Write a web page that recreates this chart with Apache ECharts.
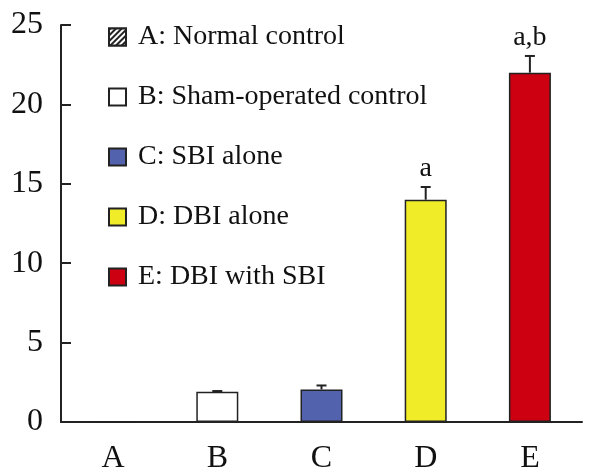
<!DOCTYPE html>
<html><head><meta charset="utf-8">
<script src="https://cdn.jsdelivr.net/npm/echarts@6/dist/echarts.min.js"></script>
<style>html,body{margin:0;padding:0;background:#fff}#c{width:593px;height:472px}</style>
</head><body><div id="c"></div>
<script>
const categories = ['A', 'B', 'C', 'D', 'E'];
const groupNames = ['A: Normal control', 'B: Sham-operated control', 'C: SBI alone', 'D: DBI alone', 'E: DBI with SBI'];
const values = [0, 1.9, 2.05, 14.0, 22.0];
const errors = [0, 0.05, 0.25, 0.8, 1.05];
const sigLabels = ['', '', '', 'a', 'a,b'];
const yTicks = [0, 5, 10, 15, 20, 25];

const fills = ['#ffffff', '#ffffff', '#5262ac', '#f0ec28', '#cc0010'];
const FONT = '"Liberation Serif", "Times New Roman", serif';
const chart = echarts.init(document.getElementById('c'));

const barSeries = groupNames.map((name, k) => {
  const s = {
    name: name, type: 'bar', stack: 'all', barWidth: 42,
    data: categories.map((c, i) => i === k ? values[i] : '-'),
    itemStyle: { color: fills[k], borderColor: '#222', borderWidth: 1.5 },
    animation: false
  };
  if (k === 0) {
    s.itemStyle.decal = { symbol: 'rect', color: '#222', backgroundColor: '#ffffff',
      dashArrayX: [1, 0], dashArrayY: [2, 2], rotation: -Math.PI / 4, symbolSize: 1 };
  }
  return s;
});

const errSeries = {
  type: 'custom', animation: false, silent: true,
  data: categories.map((c, i) => [i, values[i], errors[i]]),
  renderItem: function (params, api) {
    const i = params.dataIndex;
    if (!errors[i]) return null;
    const v = api.value(1), e = api.value(2);
    const b = api.coord([api.value(0), v]);
    const t = api.coord([api.value(0), v + e]);
    const children = [
      { type: 'line', shape: { x1: b[0], y1: b[1], x2: t[0], y2: t[1] }, style: { stroke: '#222', lineWidth: 2 } },
      { type: 'line', shape: { x1: t[0] - 5, y1: t[1], x2: t[0] + 5, y2: t[1] }, style: { stroke: '#222', lineWidth: 2 } }
    ];
    if (sigLabels[i]) {
      children.push({ type: 'text', style: { text: sigLabels[i], x: t[0], y: t[1] - 4,
        textAlign: 'center', textVerticalAlign: 'bottom', font: '28px ' + FONT, fill: '#111' } });
    }
    return { type: 'group', children: children };
  }
};

chart.setOption({
  backgroundColor: '#ffffff',
  animation: false,
  grid: { left: 61, right: 11, top: 25, bottom: 50, outerBoundsMode: 'none', containLabel: false },
  legend: {
    data: groupNames, orient: 'vertical', left: 103, top: 18, icon: 'rect',
    itemWidth: 17, itemHeight: 17, itemGap: 32, selectedMode: false,
    textStyle: { fontFamily: FONT, fontSize: 28, color: '#111', padding: [0, 0, 0, 7] }
  },
  xAxis: {
    type: 'category', data: categories,
    axisLine: { lineStyle: { color: '#222', width: 2 } },
    axisTick: { inside: true, length: 10, lineStyle: { color: '#222', width: 2 } },
    axisLabel: { fontFamily: FONT, fontSize: 32, color: '#111', margin: 21 }
  },
  yAxis: {
    type: 'value', min: yTicks[0], max: yTicks[yTicks.length - 1], interval: 5,
    splitLine: { show: false },
    axisLine: { show: true, lineStyle: { color: '#222', width: 2 } },
    axisTick: { show: true, inside: true, length: 10, lineStyle: { color: '#222', width: 2 } },
    axisLabel: { fontFamily: FONT, fontSize: 32, color: '#111', margin: 18 }
  },
  series: barSeries.concat([errSeries])
});
</script></body></html>
